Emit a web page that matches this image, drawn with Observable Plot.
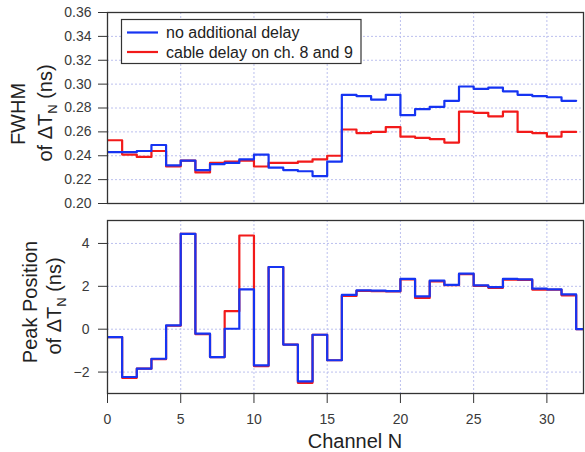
<!DOCTYPE html>
<html><head><meta charset="utf-8">
<script src="https://cdn.jsdelivr.net/npm/d3@7"></script>
<script src="https://cdn.jsdelivr.net/npm/@observablehq/plot@0.6"></script>
<style>
body{margin:0;background:#fff;font-family:"Liberation Sans",Arial,sans-serif;}
#wrap{position:relative;width:585px;height:452px;overflow:hidden;}
#top,#bot{position:absolute;left:0;}
#top{top:0}
#bot{top:212px}
</style></head><body>
<div id="wrap"><div id="top"></div><div id="bot"></div></div>
<script>
const fwhmNoDelay = [0.243, 0.243, 0.244, 0.249, 0.232, 0.236, 0.228, 0.233, 0.234, 0.237, 0.241, 0.230, 0.228, 0.227, 0.223, 0.235,
  0.291, 0.290, 0.287, 0.291, 0.274, 0.279, 0.281, 0.286, 0.298, 0.296, 0.297, 0.294, 0.291, 0.290, 0.289, 0.286];
const fwhmCableDelay = [0.253, 0.241, 0.239, 0.244, 0.231, 0.236, 0.226, 0.234, 0.235, 0.236, 0.231, 0.234, 0.234, 0.235, 0.237, 0.240,
  0.262, 0.259, 0.260, 0.264, 0.256, 0.255, 0.254, 0.251, 0.277, 0.276, 0.273, 0.277, 0.260, 0.259, 0.256, 0.260];
const peakNoDelay = [-0.37, -2.23, -1.84, -1.38, 0.18, 4.45, -0.21, -1.30, 0.02, 1.86, -1.69, 2.90, -0.72, -2.43, -0.26, -1.45,
  1.60, 1.81, 1.80, 1.78, 2.35, 1.53, 2.27, 2.07, 2.59, 2.04, 1.96, 2.35, 2.32, 1.89, 1.86, 1.62, 0.0];
const peakCableDelay = [-0.37, -2.27, -1.84, -1.40, 0.16, 4.45, -0.23, -1.30, 0.84, 4.37, -1.72, 2.90, -0.72, -2.50, -0.26, -1.45,
  1.55, 1.79, 1.77, 1.76, 2.32, 1.46, 2.23, 2.05, 2.57, 2.02, 1.93, 2.31, 2.30, 1.85, 1.84, 1.58, 0.0];
const fwhmTicks = [0.20, 0.22, 0.24, 0.26, 0.28, 0.30, 0.32, 0.34, 0.36];
const peakTicks = [-2, 0, 2, 4];
const channelTicks = [0, 5, 10, 15, 20, 25, 30];
const seriesNames = ["no additional delay", "cable delay on ch. 8 and 9"];
const seriesColors = ["#1634f2", "#f21a1a"];

const FONT = '"Liberation Sans", Arial, sans-serif';
const gridStyle = {stroke: "#bcc0ee", strokeOpacity: 1, strokeDasharray: "2,2"};

function steps(values) {
  const pts = values.map((v, i) => ({channel: i, value: v}));
  pts.push({channel: values.length, value: values[values.length - 1]});
  return pts;
}

const topPlot = Plot.plot({
  width: 585, height: 212,
  marginTop: 12, marginBottom: 9, marginLeft: 107, marginRight: 2,
  x: {domain: [0, 32.5], axis: null},
  y: {domain: [0.20, 0.36], axis: null},
  style: {fontFamily: FONT, fontSize: "14px", color: "#3a3a3a", background: "transparent"},
  marks: [
    Plot.gridX(channelTicks.filter(d => d > 0), gridStyle),
    Plot.gridY(fwhmTicks.slice(1, -1), gridStyle),
    Plot.line(steps(fwhmCableDelay), {x: "channel", y: "value", curve: "step-after", stroke: seriesColors[1], strokeWidth: 2.2, clip: true}),
    Plot.line(steps(fwhmNoDelay), {x: "channel", y: "value", curve: "step-after", stroke: seriesColors[0], strokeWidth: 2.2, clip: true}),
    Plot.frame({stroke: "#333", strokeWidth: 1.3}),
    Plot.axisY(fwhmTicks, {tickSize: 9, tickPadding: 7, tickFormat: d => d.toFixed(2), fontSize: 14, stroke: "#333", label: null})
  ]
});

const botPlot = Plot.plot({
  width: 585, height: 240,
  marginTop: 8, marginBottom: 59, marginLeft: 107, marginRight: 2,
  x: {domain: [0, 32.5], axis: null},
  y: {domain: [-3.0, 5.07], axis: null},
  style: {fontFamily: FONT, fontSize: "14px", color: "#3a3a3a", background: "transparent"},
  marks: [
    Plot.gridX(channelTicks.filter(d => d > 0), gridStyle),
    Plot.gridY(peakTicks, gridStyle),
    Plot.line(steps(peakCableDelay), {x: "channel", y: "value", curve: "step-after", stroke: seriesColors[1], strokeWidth: 2.2, clip: true}),
    Plot.line(steps(peakNoDelay), {x: "channel", y: "value", curve: "step-after", stroke: seriesColors[0], strokeWidth: 2.2, clip: true}),
    Plot.frame({stroke: "#333", strokeWidth: 1.3}),
    Plot.axisY(peakTicks, {tickSize: 9, tickPadding: 9, fontSize: 14, stroke: "#333", label: null}),
    Plot.axisX(channelTicks, {tickSize: 10, tickPadding: 11, fontSize: 14, stroke: "#333", label: null})
  ]
});

document.getElementById("top").appendChild(topPlot);
document.getElementById("bot").appendChild(botPlot);

function plainRot(svg, x, y, txt) {
  d3.select(svg).append("text")
    .attr("transform", `translate(${x},${y}) rotate(-90)`)
    .attr("text-anchor", "middle")
    .attr("font-family", FONT).attr("font-size", 20).attr("fill", "#222")
    .text(txt);
}
function subRot(svg, x, y) {
  const t = d3.select(svg).append("text")
    .attr("transform", `translate(${x},${y}) rotate(-90)`)
    .attr("text-anchor", "middle")
    .attr("font-family", FONT).attr("font-size", 20).attr("fill", "#222");
  t.append("tspan").text("of \u0394T");
  t.append("tspan").attr("font-size", 13).attr("dy", 5).text("N");
  t.append("tspan").attr("dy", -5).text(" (ns)");
}
plainRot(topPlot, 25, 114, "FWHM");
subRot(topPlot, 52, 113);
plainRot(botPlot, 37, 90, "Peak Position");
subRot(botPlot, 61, 94);

d3.select(botPlot).append("text")
  .attr("x", 355).attr("y", 236).attr("text-anchor", "middle")
  .attr("font-family", FONT).attr("font-size", 20).attr("fill", "#222")
  .text("Channel N");

// legend
const lg = d3.select(topPlot).append("g");
lg.append("rect").attr("x", 121.5).attr("y", 19.5).attr("width", 239.5).attr("height", 44)
  .attr("fill", "#fff").attr("stroke", "#333").attr("stroke-width", 1.2);
seriesNames.forEach((name, i) => {
  const yy = 32.5 + i * 19.5;
  lg.append("line").attr("x1", 127).attr("x2", 158).attr("y1", yy).attr("y2", yy)
    .attr("stroke", seriesColors[i]).attr("stroke-width", 2.2);
  lg.append("text").attr("x", 166).attr("y", yy).attr("dy", "0.35em").attr("text-anchor", "start")
    .attr("font-family", FONT).attr("font-size", 16).attr("fill", "#222").text(name);
});
</script>
</body></html>
